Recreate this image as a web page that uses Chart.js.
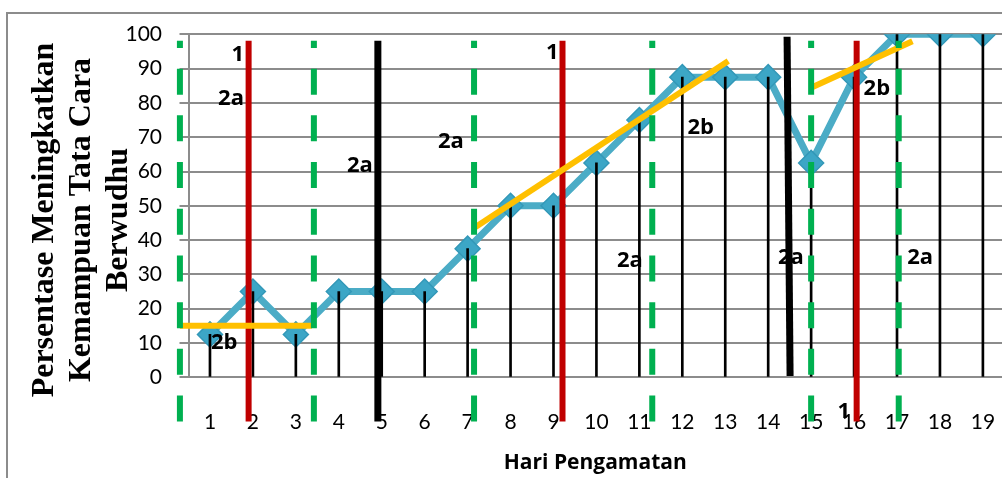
<!DOCTYPE html>
<html>
<head>
<meta charset="utf-8">
<script src="https://cdn.jsdelivr.net/npm/chart.js@4.4.0/dist/chart.umd.min.js"></script>
<style>
    html, body { margin: 0; padding: 0; background: #fff; overflow: hidden; }
    #wrap { position: relative; width: 1002px; height: 478px; }
    #frame {
        position: absolute; left: 6px; top: 12px; right: 0; bottom: 0;
        border-left: 2px solid #8c8c8c; border-top: 2px solid #8c8c8c;
        pointer-events: none;
    }
</style>
</head>
<body>
<div id="wrap">
    <canvas id="chart" width="1002" height="478"></canvas>
    <div id="frame"></div>
</div>
<script>
// Observation days and scores
const days = [1, 2, 3, 4, 5, 6, 7, 8, 9, 10, 11, 12, 13, 14, 15, 16, 17, 18, 19];
const percent = [12.5, 25, 12.5, 25, 25, 25, 37.5, 50, 50, 62.5, 75, 87.5, 87.5, 87.5, 62.5, 87.5, 100, 100, 100];
const yTicks = [0, 10, 20, 30, 40, 50, 60, 70, 80, 90, 100];

// Phase boundary lines (x in day units)
const redLineX = [1.9, 9.21, 16.06];
const greenLineX = [0.3, 3.42, 7.15, 11.3, 15.0, 17.04];
const phaseTop = 98.1;
const phaseBottom = -12.9;
const blackTopX = [4.91, 14.44];
const blackTopY = [98.1, 99.3];
const blackBottomX = [4.91, 14.51];
const blackBottomY = [-12.9, 0.4];

// Trend lines
const trendStartX = [0.3, 7.15, 15.01];
const trendStartY = [15, 43.5, 84.5];
const trendEndX = [3.37, 13.07, 17.36];
const trendEndY = [15, 92.2, 98];

// Phase labels
const phaseLabels = ['1', '2a', '2b', '2a', '2a', '1', '2a', '2b', '2a', '2b', '2a', '1'];
const phaseLabelX = [1.65, 1.49, 1.33, 4.49, 6.61, 8.97, 10.78, 12.43, 14.53, 16.53, 17.54, 15.76];
const phaseLabelY = [94, 81.1, 10, 61.6, 68.6, 94.6, 33.9, 72.7, 34.8, 84.1, 34.8, -10.1];

const yTitleLines = ['Persentase Meningkatkan', 'Kemampuan Tata Cara', 'Berwudhu'];

const vLine = (x1, y1, x2, y2, color, width, order, dash) => ({
    type: 'line',
    data: [{ x: x1, y: y1 }, { x: x2, y: y2 }],
    borderColor: color,
    borderWidth: width,
    borderDash: dash || [],
    borderCapStyle: 'butt',
    pointRadius: 0,
    clip: false,
    order: order
});

const datasets = [];

datasets.push({
    type: 'line',
    label: 'Persentase',
    data: days.map((d, i) => ({ x: d, y: percent[i] })),
    borderColor: '#4BACC6',
    borderWidth: 7,
    borderJoinStyle: 'round',
    pointStyle: 'rectRot',
    pointRadius: 12.5,
    pointBorderWidth: 1.5,
    pointBackgroundColor: '#3CA6C6',
    pointBorderColor: '#3398B8',
    tension: 0,
    order: 6
});

datasets.push({
    type: 'bar',
    label: 'drop',
    data: days.map((d, i) => ({ x: d, y: percent[i] })),
    backgroundColor: '#000',
    borderWidth: 0,
    barThickness: 2,
    order: 5
});

redLineX.forEach(x => datasets.push(vLine(x, phaseBottom, x, phaseTop, '#C00000', 6, 4)));
trendStartX.forEach((x, i) => datasets.push(vLine(x, trendStartY[i], trendEndX[i], trendEndY[i], '#FFC000', 6, 3)));
blackTopX.forEach((x, i) => datasets.push(vLine(blackBottomX[i], blackBottomY[i], x, blackTopY[i], '#000', 7, 2)));
greenLineX.forEach(x => datasets.push(vLine(x, phaseBottom, x, phaseTop, '#00B050', 6, 1, [26, 20.7])));

const labelPlugin = {
    id: 'phaseText',
    // plot area runs to the right edge of the canvas
    afterLayout(chart) {
        const x = chart.scales.x;
        x.right = chart.width;
        x.width = x.right - x.left;
        x.configure();
        chart.chartArea.right = chart.width;
        chart.chartArea.width = chart.chartArea.right - chart.chartArea.left;
    },
    afterDatasetsDraw(chart) {
        const { ctx, scales: { x, y } } = chart;
        ctx.save();
        ctx.font = 'bold 22px "Open Sans"';
        ctx.fillStyle = '#000';
        ctx.textAlign = 'center';
        ctx.textBaseline = 'middle';
        phaseLabels.forEach((t, i) => {
            ctx.fillText(t, x.getPixelForValue(phaseLabelX[i]), y.getPixelForValue(phaseLabelY[i]));
        });
        ctx.restore();
    },
    afterDraw(chart) {
        const ctx = chart.ctx;
        ctx.save();
        ctx.font = 'bold 32px "Liberation Serif"';
        ctx.fillStyle = '#000';
        ctx.textAlign = 'center';
        ctx.textBaseline = 'alphabetic';
        yTitleLines.forEach((t, i) => {
            ctx.save();
            ctx.translate(53.3 + i * 36.7, 220);
            ctx.rotate(-Math.PI / 2);
            ctx.fillText(t, 0, 0);
            ctx.restore();
        });
        ctx.restore();
    }
};

new Chart(document.getElementById('chart'), {
    type: 'line',
    data: { datasets: datasets },
    options: {
        responsive: false,
        animation: false,
        events: [],
        layout: { padding: { top: 34.3, right: 0, left: 0, bottom: 0 } },
        plugins: { legend: { display: false }, tooltip: { enabled: false } },
        scales: {
            x: {
                type: 'linear',
                bounds: 'data',
                offset: false,
                // the plot runs a little past the right edge of the picture
                afterDataLimits: s => { s.min = 0.5; s.max = 19.445; },
                afterBuildTicks: s => { s.ticks = days.map(v => ({ value: v })); },
                afterFit: s => {
                    s.height = 100.7;
                    s.paddingLeft = 0;
                    s.paddingRight = 0;
                },
                // tick marks hidden, tickLength only pushes the labels down
                grid: { display: false, drawTicks: true, tickLength: 32, offset: false },
                border: { display: false },
                ticks: {
                    autoSkip: false,
                    maxRotation: 0,
                    padding: 0,
                    color: '#000',
                    font: { family: 'Lato', size: 21 }
                },
                title: {
                    display: true,
                    text: 'Hari Pengamatan',
                    color: '#000',
                    font: { family: 'Open Sans', size: 21, weight: 'bold' },
                    padding: { top: 0, bottom: 2 }
                }
            },
            y: {
                min: 0,
                max: 100,
                afterBuildTicks: s => { s.ticks = yTicks.map(v => ({ value: v })); },
                afterFit: s => { s.width = 188.5; },
                grid: { color: '#8c8c8c', lineWidth: 2, tickLength: 9 },
                border: { display: true, color: '#8c8c8c', width: 2 },
                ticks: {
                    padding: 17.5,
                    color: '#000',
                    font: { family: 'Lato', size: 21 }
                }
            }
        }
    },
    plugins: [labelPlugin]
});
</script>
</body>
</html>
